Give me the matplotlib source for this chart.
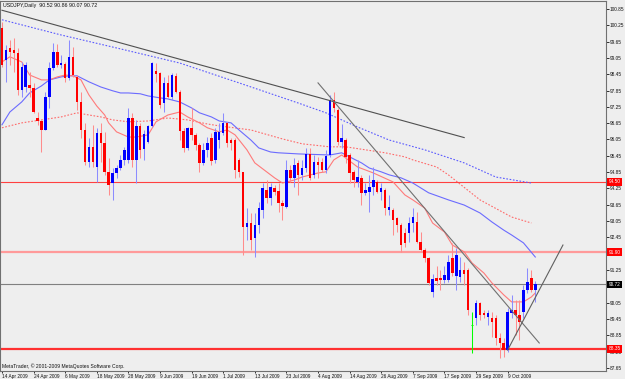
import matplotlib
matplotlib.use('Agg')
import matplotlib.pyplot as plt

plt.rcParams['font.family'] = ['Liberation Sans Narrow', 'Liberation Sans', 'DejaVu Sans']

# USDJPY daily candles, 14 Apr 2009 .. 20 Oct 2009
opens = [100.15, 98.98, 99.42, 99.34, 99.23, 97.87, 97.98, 98.06, 97.95, 96.84,
         96.73, 96.40, 97.61, 98.68, 99.27, 98.79, 98.83, 98.31, 99.09, 98.35,
         97.43, 96.40, 95.23, 95.78, 95.04, 96.29, 95.92, 94.86, 94.45, 94.82,
         95.00, 95.30, 95.30, 96.84, 95.30, 96.55, 95.70, 95.96, 96.55, 98.57,
         98.50, 97.39, 98.13, 97.61, 98.39, 97.80, 96.36, 95.74, 96.48, 96.22,
         95.85, 95.19, 95.67, 96.11, 95.30, 96.03, 96.29, 96.66, 96.03, 96.03,
         95.30, 94.86, 92.84, 92.98, 92.43, 92.91, 93.46, 94.20, 93.90, 94.27,
         94.16, 93.72, 93.57, 94.93, 94.64, 95.19, 94.75, 95.00, 95.52, 94.75,
         95.23, 95.23, 94.93, 95.48, 97.50, 97.14, 95.96, 96.03, 95.48, 94.86,
         94.49, 94.64, 94.09, 94.12, 94.31, 94.49, 94.12, 94.20, 93.46, 93.46,
         93.17, 92.91, 92.61, 92.61, 92.98, 93.02, 92.28, 91.99, 91.70, 90.45,
         90.96, 90.96, 90.89, 90.89, 91.70, 91.03, 91.00, 91.25, 91.25, 89.23,
         89.49, 90.04, 89.67, 89.53, 89.49, 89.49, 88.75, 88.57, 88.31, 89.67,
         89.78, 89.60, 89.71, 90.52, 90.96, 90.52]
highs = [100.37, 99.53, 99.71, 99.78, 99.42, 98.90, 98.90, 98.53, 98.13, 97.06,
         96.77, 97.80, 98.90, 99.60, 99.56, 99.16, 98.90, 99.71, 99.45, 98.42,
         97.80, 96.66, 96.11, 96.59, 96.48, 96.66, 96.33, 95.37, 95.00, 95.11,
         95.48, 95.78, 97.21, 97.03, 96.77, 96.66, 96.40, 96.59, 98.90, 98.86,
         98.53, 98.35, 98.42, 98.50, 98.50, 97.87, 96.48, 96.51, 97.21, 96.29,
         95.92, 95.92, 96.14, 96.29, 96.48, 96.66, 97.03, 96.70, 96.11, 96.11,
         95.37, 94.86, 93.53, 93.35, 93.35, 93.75, 94.45, 94.56, 94.45, 94.38,
         94.45, 93.83, 95.30, 95.11, 95.37, 95.30, 95.30, 95.74, 95.74, 95.48,
         95.41, 95.37, 95.67, 97.69, 97.80, 97.21, 96.62, 96.11, 95.56, 94.93,
         95.30, 94.75, 94.45, 94.75, 95.04, 94.56, 94.45, 94.27, 94.01, 93.53,
         93.20, 92.98, 92.80, 93.20, 93.53, 93.39, 92.65, 92.06, 91.73, 91.11,
         91.40, 91.25, 91.40, 91.81, 92.25, 92.06, 91.73, 91.55, 91.33, 89.71,
         90.15, 90.08, 89.78, 89.78, 89.71, 89.60, 88.94, 88.75, 89.86, 90.34,
         90.15, 90.15, 90.70, 91.33, 91.25, 90.86]
lows = [98.72, 98.17, 98.79, 98.53, 97.69, 97.61, 97.80, 97.61, 97.03, 96.59,
        95.59, 96.40, 97.21, 98.61, 98.72, 98.68, 98.17, 98.24, 98.35, 97.14,
        96.11, 95.11, 95.04, 95.04, 94.49, 95.23, 94.75, 94.01, 93.83, 94.64,
        94.93, 95.11, 95.19, 95.04, 94.45, 95.37, 95.30, 95.92, 96.51, 98.17,
        97.21, 97.06, 97.58, 97.50, 97.76, 96.03, 95.59, 95.67, 96.03, 95.67,
        94.86, 95.11, 95.41, 95.11, 95.19, 95.74, 96.22, 95.78, 95.67, 94.64,
        94.67, 91.81, 92.36, 91.99, 91.73, 92.61, 93.17, 93.72, 93.64, 94.01,
        93.39, 93.09, 93.53, 94.49, 94.31, 94.01, 94.56, 94.86, 94.56, 94.64,
        94.64, 94.86, 94.82, 95.41, 97.06, 95.85, 95.74, 95.19, 94.45, 94.31,
        94.31, 93.64, 94.01, 93.39, 94.01, 94.09, 93.83, 93.28, 93.28, 92.54,
        92.65, 91.92, 92.10, 92.28, 92.65, 92.25, 91.92, 91.55, 90.70, 90.26,
        90.70, 90.52, 90.78, 90.81, 91.03, 90.52, 90.81, 90.70, 89.60, 88.20,
        89.23, 89.42, 89.49, 89.23, 88.79, 88.50, 88.02, 88.06, 88.24, 89.49,
        88.87, 88.68, 89.49, 90.41, 90.45, 90.07]
closes = [98.79, 99.34, 99.27, 99.23, 97.87, 98.72, 98.79, 97.95, 97.06, 96.73,
          96.40, 97.61, 98.68, 99.27, 98.79, 98.86, 98.31, 99.09, 98.42, 97.43,
          96.40, 95.23, 95.78, 95.23, 96.29, 95.92, 94.86, 94.38, 94.82, 95.00,
          95.30, 95.67, 96.84, 95.30, 96.55, 95.67, 96.25, 96.55, 98.86, 98.46,
          97.32, 98.13, 97.61, 98.42, 97.80, 96.36, 95.74, 96.48, 96.22, 95.85,
          95.19, 95.67, 95.92, 95.26, 96.33, 96.33, 96.66, 95.92, 95.92, 94.93,
          94.86, 92.84, 92.98, 92.36, 92.91, 93.53, 94.27, 93.90, 94.31, 94.12,
          93.72, 93.61, 94.93, 94.64, 95.11, 94.75, 95.00, 95.52, 94.64, 95.23,
          95.11, 94.93, 95.45, 97.50, 97.21, 95.96, 96.11, 95.41, 94.82, 94.56,
          94.67, 94.09, 94.20, 94.31, 94.56, 94.12, 94.27, 93.53, 93.57, 93.09,
          92.91, 92.17, 92.25, 92.98, 93.20, 92.28, 91.99, 91.70, 90.78, 90.92,
          90.85, 90.89, 91.07, 91.55, 91.14, 91.81, 91.25, 91.11, 89.78, 89.23,
          90.04, 89.60, 89.60, 89.67, 89.34, 88.75, 88.57, 88.31, 89.71, 89.78,
          89.60, 89.34, 90.52, 90.81, 90.52, 90.72]

# moving averages (read at points along each curve)
ma_fast_idx = [0, 2, 5, 7, 10, 12, 14, 16, 18, 20, 22, 24, 26, 27, 29, 32, 34, 37, 39, 42,
               45, 47, 50, 52, 55, 57, 59, 62, 64, 67, 69, 71, 74, 76, 80, 82, 84, 86, 90, 94,
               99, 102, 104, 107, 109, 112, 114, 117, 119, 122, 124, 127, 129, 132, 134, 135]
ma_fast = [98.90, 99.09, 98.90, 98.42, 98.24, 98.24, 98.35, 98.42, 98.39, 98.24,
           97.69, 97.28, 96.95, 96.66, 96.33, 96.14, 96.14, 96.22, 96.70, 96.95,
           97.06, 96.88, 96.66, 96.48, 96.33, 96.40, 96.22, 95.67, 95.19, 94.86,
           94.64, 94.45, 94.56, 94.67, 94.82, 94.86, 95.30, 95.48, 95.04, 94.82,
           94.49, 94.01, 93.83, 93.53, 92.98, 92.65, 92.17, 91.92, 91.51, 91.14,
           90.78, 90.34, 90.08, 90.08, 90.26, 90.41]
ma_mid_idx = [0, 2, 5, 7, 10, 12, 15, 17, 19, 22, 25, 28, 30, 32, 35, 37, 40, 42, 45, 48,
              50, 53, 55, 58, 60, 63, 65, 68, 70, 75, 83, 86, 88, 91, 93, 96, 98, 101, 104, 108,
              113, 117, 121, 124, 127, 129, 132, 135]
ma_mid = [96.59, 97.06, 97.43, 97.76, 98.02, 98.24, 98.35, 98.39, 98.39, 98.17,
          97.98, 97.84, 97.76, 97.76, 97.73, 97.65, 97.58, 97.54, 97.43, 97.21,
          97.03, 96.88, 96.73, 96.66, 96.40, 96.03, 95.74, 95.59, 95.56, 95.52,
          95.48, 95.56, 95.41, 95.19, 95.00, 94.86, 94.75, 94.64, 94.45, 94.09,
          93.83, 93.64, 93.35, 93.02, 92.72, 92.54, 92.25, 91.73]
ma_slow_idx = [0, 5, 10, 15, 19, 22, 25, 28, 32, 37, 42, 47, 52, 55, 63, 71, 76, 83, 87, 92,
               97, 102, 104, 110, 113, 121, 129, 134]
ma_slow = [96.48, 96.66, 96.77, 96.88, 97.03, 96.95, 96.88, 96.77, 96.70, 96.73,
           96.84, 96.77, 96.62, 96.55, 96.40, 96.07, 95.89, 95.78, 95.78, 95.67,
           95.56, 95.41, 95.30, 95.04, 94.75, 93.83, 93.20, 92.98]
ma_long_idx = [0, 15, 30, 45, 60, 75, 82, 90, 98, 107, 117, 125, 134]
ma_long = [100.45, 99.89, 99.38, 98.86, 98.13, 97.39, 97.03, 96.51, 96.03, 95.67,
           95.19, 94.67, 94.45]

# drawn objects
trend_top = [(0, 100.80), (117, 96.12)]
trend_down = [(80, 98.13), (136, 88.57)]
trend_up = [(128, 88.31), (142, 92.17)]
levels = [94.50, 91.90, 88.35]
last_price = 90.72

date_idx = [0, 8, 16, 24, 32, 40, 48, 56, 64, 72, 80, 88, 96, 104, 112, 120, 128]
date_labels = ['14 Apr 2009', '24 Apr 2009', '6 May 2009', '18 May 2009', '28 May 2009',
               '9 Jun 2009', '19 Jun 2009', '1 Jul 2009', '13 Jul 2009', '23 Jul 2009',
               '4 Aug 2009', '14 Aug 2009', '26 Aug 2009', '7 Sep 2009', '17 Sep 2009',
               '29 Sep 2009', '9 Oct 2009']
price_ticks = [100.85, 100.25, 99.65, 99.05, 98.45, 97.85, 97.25, 96.65, 96.05, 95.45,
               94.85, 94.25, 93.65, 93.05, 92.45, 91.85, 91.25, 90.65, 90.05, 89.45,
               88.85, 88.25, 87.65]
hidden_ticks = [91.85, 90.65]  # covered by the price boxes on the scale

bg = '#eeeeee'
fs = 3.4

fig = plt.figure(figsize=(6.25, 3.79), dpi=100)
fig.patch.set_facecolor(bg)
ax = fig.add_axes([0, 8 / 379, 606 / 625, 370 / 379])
ax.set_facecolor(bg)
ax.set_xlim(-0.5, 152.9)
ax.set_ylim(87.54, 101.14)

# horizontal levels
ax.axhline(levels[0], color='#ff4040', lw=0.8, zorder=1)
ax.axhline(levels[1], color='#ff9a9a', lw=1.6, zorder=1)
ax.axhline(levels[2], color='#ff3030', lw=1.6, zorder=1)
ax.axhline(last_price, color='#808080', lw=0.8, zorder=1)

# moving averages
ax.plot(ma_long_idx, ma_long, color='#5a5aff', lw=0.8, ls=(0, (1.5, 1.5)), zorder=2)
ax.plot(ma_slow_idx, ma_slow, color='#ff6a6a', lw=0.8, ls=(0, (1.5, 1.5)), zorder=2)
ax.plot(ma_mid_idx, ma_mid, color='#6b6bff', lw=0.8, zorder=2)
ax.plot(ma_fast_idx, ma_fast, color='#ff7a7a', lw=0.8, zorder=2)

# candles
xs = list(range(len(opens)))
wick_cols, body_cols = [], []
for o, c in zip(opens, closes):
    if c > o:
        wick_cols.append('#8c8cff'); body_cols.append('#0000ff')
    elif c < o:
        wick_cols.append('#ff8c8c'); body_cols.append('#ff0000')
    else:
        wick_cols.append('#00ff00'); body_cols.append('#00ff00')
ax.vlines(xs, lows, highs, colors=wick_cols, lw=0.75, zorder=3)
bottoms = [min(o, c) for o, c in zip(opens, closes)]
heights = [abs(c - o) for o, c in zip(opens, closes)]
ax.bar(xs, heights, bottom=bottoms, width=0.62, color=body_cols, lw=0, zorder=4)
for i, (o, c) in enumerate(zip(opens, closes)):
    if o == c:
        ax.hlines(o, i - 0.3, i + 0.3, colors='#00ff00', lw=0.75, zorder=4)

# trend lines
ax.plot([p[0] for p in trend_top], [p[1] for p in trend_top], color='#505050', lw=0.8, zorder=5)
ax.plot([p[0] for p in trend_down], [p[1] for p in trend_down], color='#707070', lw=0.8, zorder=5)
ax.plot([p[0] for p in trend_up], [p[1] for p in trend_up], color='#606060', lw=0.8, zorder=5)

# axes look
for s in ax.spines.values():
    s.set_color('#707070')
    s.set_linewidth(0.8)
ax.yaxis.tick_right()
ax.set_yticks(price_ticks, ['' if v in hidden_ticks else '%.2f' % v for v in price_ticks])
ax.set_xticks(date_idx, date_labels)
for t in ax.get_xticklabels():
    t.set_ha('left')
ax.tick_params(axis='y', length=2, width=0.6, pad=0.8, labelsize=fs, colors='#101010')
ax.tick_params(axis='x', length=1.5, width=0.6, pad=0.5, labelsize=fs, colors='#101010')

# price labels on the scale
for v, fc in [(levels[0], '#ff0000'), (levels[1], '#ff0000'), (levels[2], '#ff0000'),
              (last_price, '#000000')]:
    ax.text(1.004, v, '%.2f' % v, transform=ax.get_yaxis_transform(), ha='left', va='center',
            color='white', fontsize=fs, clip_on=False, zorder=10,
            bbox=dict(boxstyle='square,pad=0.3', fc=fc, ec='none'))

fig.text(3 / 625, 1 - 6 / 379, 'USDJPY,Daily  90.52 90.86 90.07 90.72', fontsize=3.8,
         va='center', ha='left', color='#101010')
fig.text(2 / 625, 1 - 366 / 379, 'MetaTrader, \u00a9 2001-2009 MetaQuotes Software Corp.',
         fontsize=3.6, va='center', ha='left', color='#101010')

fig.savefig('out.png', dpi=100, facecolor=bg)
